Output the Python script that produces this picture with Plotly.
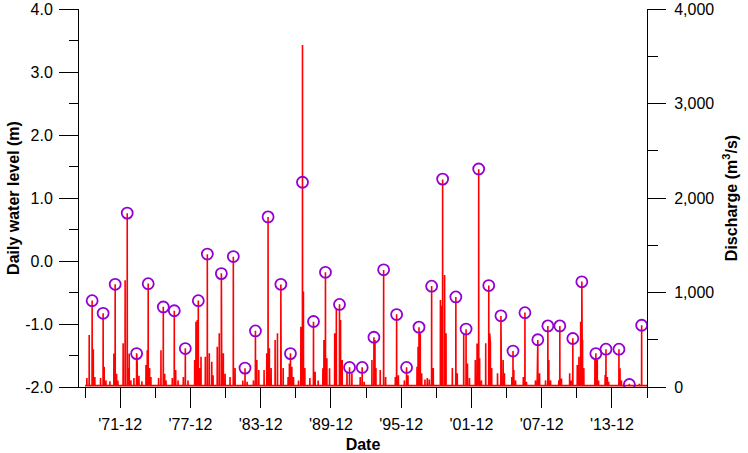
import plotly.graph_objects as go
from datetime import datetime, timedelta

# ---- Annual peak daily water level (circles), decimal year and level (m)
peak_years = [1969.52, 1970.46, 1971.49, 1972.52, 1973.32, 1974.31, 1975.60, 1976.54,
              1977.48, 1978.59, 1979.36, 1980.56, 1981.58, 1982.58, 1983.47, 1984.55,
              1985.64, 1986.46, 1987.49, 1988.43, 1989.45, 1990.65, 1991.51, 1992.59,
              1993.59, 1994.42, 1995.53, 1996.38, 1997.44, 1998.52, 1999.46, 2000.59,
              2001.46, 2002.54, 2003.40, 2004.44, 2005.47, 2006.49, 2007.59, 2008.45,
              2009.47, 2010.58, 2011.35, 2012.55, 2013.41, 2014.52, 2015.41, 2016.46]
peak_levels = [-0.63, -0.83, -0.37, 0.76, -1.47, -0.36, -0.73, -0.79,
               -1.39, -0.63, 0.11, -0.20, 0.07, -1.70, -1.11, 0.70,
               -0.37, -1.47, 1.25, -0.96, -0.18, -0.69, -1.69, -1.69,
               -1.21, -0.14, -0.85, -1.69, -1.05, -0.40, 1.30, -0.57,
               -1.08, 1.46, -0.39, -0.87, -1.43, -0.82, -1.25, -1.03,
               -1.03, -1.23, -0.33, -1.47, -1.40, -1.40, -1.96, -1.02]

# ---- Daily discharge: flood events (decimal year, m3/s)
spike_years = [
    1969.07, 1969.27, 1969.52, 1969.62, 1969.75,
    1970.24, 1970.46, 1970.55, 1970.70, 1971.04,
    1971.38, 1971.49, 1971.61, 1971.72,
    1972.17, 1972.34, 1972.52, 1972.60, 1972.69, 1972.83,
    1973.09, 1973.32, 1973.37, 1973.52, 1973.77,
    1974.12, 1974.23, 1974.31, 1974.43, 1974.54,
    1975.20, 1975.40, 1975.60, 1975.72, 1975.83,
    1976.37, 1976.54, 1976.66, 1976.86,
    1977.31, 1977.48, 1977.71,
    1978.28, 1978.39, 1978.50, 1978.59, 1978.71, 1978.82,
    1979.19, 1979.36, 1979.53, 1979.74, 1979.85,
    1980.21, 1980.38, 1980.56, 1980.59, 1980.73, 1980.88,
    1981.30, 1981.58, 1981.73,
    1982.39, 1982.58, 1982.76,
    1983.30, 1983.47, 1983.59, 1983.76,
    1984.21, 1984.44, 1984.55, 1984.66, 1984.81,
    1985.15, 1985.35, 1985.64, 1985.66, 1985.84,
    1986.26, 1986.37, 1986.46, 1986.58, 1986.72,
    1987.15, 1987.35, 1987.49, 1987.57, 1987.69,
    1988.12, 1988.43, 1988.57, 1988.83,
    1989.23, 1989.32, 1989.45, 1989.57, 1989.80,
    1990.24, 1990.38, 1990.65, 1990.74, 1990.88,
    1991.29, 1991.51, 1991.71,
    1992.42, 1992.59, 1992.76,
    1993.42, 1993.59, 1993.68, 1993.76,
    1994.13, 1994.42, 1994.59,
    1995.42, 1995.53, 1995.68,
    1996.19, 1996.38, 1996.50,
    1997.27, 1997.36, 1997.44, 1997.55, 1997.67,
    1997.95, 1998.15, 1998.32, 1998.52, 1998.66,
    1999.27, 1999.38, 1999.46, 1999.63, 1999.75,
    2000.29, 2000.59, 2000.71,
    2001.26, 2001.46, 2001.58, 2001.75,
    2002.25, 2002.40, 2002.54, 2002.62, 2002.77,
    2003.14, 2003.40, 2003.48, 2003.54, 2003.65,
    2004.15, 2004.44, 2004.48, 2004.63, 2004.74,
    2005.37, 2005.47, 2005.54, 2005.69,
    2006.35, 2006.49, 2006.62,
    2007.39, 2007.54, 2007.59, 2007.74,
    2008.25, 2008.45, 2008.53, 2008.68,
    2009.38, 2009.47, 2009.61,
    2010.31, 2010.45, 2010.58,
    2010.96, 2011.10, 2011.25, 2011.35, 2011.41, 2011.52,
    2012.47, 2012.55, 2012.67, 2012.78,
    2013.34, 2013.41, 2013.53, 2013.64,
    2014.52, 2014.61, 2014.73,
    2015.41,
    2016.26, 2016.46,
]
spike_q = [
    95, 550, 915, 400, 105,
    95, 780, 215, 70, 60,
    355, 1087, 140, 70,
    462, 1130, 1838, 200, 355, 70,
    95, 357, 250, 120, 60,
    233, 390, 1095, 200, 105,
    95, 390, 850, 140, 70,
    95, 807, 180, 70,
    105, 410, 70,
    285, 690, 710, 915, 200, 320,
    320, 1404, 357, 268, 125,
    427, 568, 1203, 600, 357, 140,
    105, 1379, 200,
    70, 198, 55,
    70, 596, 285, 180,
    180, 357, 1799, 410, 200,
    497, 568, 1085, 480, 200,
    105, 250, 357, 215, 105,
    70, 638, 3620, 1010, 200,
    95, 691, 162, 70,
    198, 497, 1214, 303, 198,
    568, 830, 875, 709, 285,
    162, 208, 145,
    105, 208, 55,
    285, 526, 497, 200,
    180, 1238, 105,
    105, 769, 125,
    70, 208, 125,
    215, 427, 632, 568, 145,
    80, 95, 80, 1069, 200,
    920, 860, 2197, 1185, 568,
    200, 952, 145,
    568, 610, 250, 95,
    285, 460, 2303, 303, 70,
    462, 1074, 568, 462, 200,
    145, 751, 656, 285, 145,
    105, 381, 180, 70,
    105, 788, 55,
    70, 390, 497, 145,
    70, 645, 285, 70,
    70, 645, 90,
    145, 70, 515,
    233, 320, 691, 1116, 497, 200,
    303, 357, 285, 70,
    127, 399, 105, 55,
    399, 198, 70,
    35,
    35, 653,
]
base_q = 15
series_start, series_end = 1968.92, 2016.92

# ---- axis ticks
x_tick_years = [1971.917, 1977.917, 1983.917, 1989.917, 1995.917, 2001.917, 2007.917, 2013.917]
x_tick_text = ["'71-12", "'77-12", "'83-12", "'89-12", "'95-12", "'01-12", "'07-12", "'13-12"]
x_minor_years = [1968.917, 1974.917, 1980.917, 1986.917, 1992.917, 1998.917, 2004.917, 2010.917, 2016.917]
x_range_years = [1968.40, 2016.917]
lvl_ticks = [-2, -1, 0, 1, 2, 3, 4]
lvl_text = ["-2.0", "-1.0", "0.0", "1.0", "2.0", "3.0", "4.0"]
q_ticks = [0, 1000, 2000, 3000, 4000]
q_text = ["0", "1,000", "2,000", "3,000", "4,000"]


def dt(y):
    yr = int(y)
    return datetime(yr, 1, 1) + timedelta(days=(y - yr) * 365.25)


xs, ys = [dt(series_start)], [base_q]
for t, q in sorted(zip(spike_years, spike_q)):
    xs += [dt(t - 0.008), dt(t), dt(t + 0.008)]
    ys += [base_q, q, base_q]
xs.append(dt(series_end))
ys.append(base_q)

FONT = "Liberation Sans, Arial, sans-serif"
PURPLE = "#9400D3"

fig = go.Figure()
fig.add_trace(go.Scatter(x=xs, y=ys, mode="lines", yaxis="y",
                         line=dict(color="#FF0000", width=1.6), showlegend=False))
fig.add_trace(go.Scatter(x=[dt(p) for p in peak_years], y=peak_levels, mode="markers",
                         yaxis="y2", showlegend=False,
                         marker=dict(symbol="circle-open", size=11, color=PURPLE,
                                     line=dict(width=1.8, color=PURPLE))))

fig.update_layout(
    width=748, height=453,
    margin=dict(l=79, r=101, t=9, b=66),
    paper_bgcolor="white", plot_bgcolor="white",
    font=dict(family=FONT, size=16, color="black"),
    xaxis=dict(
        type="date", range=[dt(x_range_years[0]), dt(x_range_years[1])],
        showgrid=False, zeroline=False, showline=True, linecolor="black", linewidth=1,
        ticks="outside", ticklen=20, tickwidth=1, tickcolor="black",
        tickmode="array", tickvals=[dt(v) for v in x_tick_years], ticktext=x_tick_text,
        ticklabelstandoff=3,
        minor=dict(tickmode="array", tickvals=[dt(v) for v in x_minor_years],
                   ticks="outside", ticklen=10, tickwidth=1, tickcolor="black", showgrid=False),
        title=dict(text="<b>Date</b>", font=dict(size=16), standoff=6),
        automargin=False,
    ),
    yaxis=dict(
        side="right", range=[0, 4000], showgrid=False, zeroline=False,
        showline=True, linecolor="black", linewidth=1,
        ticks="outside", ticklen=18, tickwidth=1, tickcolor="black",
        tickmode="array", tickvals=q_ticks, ticktext=q_text,
        ticklabelstandoff=5,
        minor=dict(dtick=500, ticks="outside", ticklen=10, tickwidth=1, tickcolor="black", showgrid=False),
        title=dict(text="<b>Discharge (m<sup>3</sup>/s)</b>", font=dict(size=16), standoff=12),
        automargin=False,
    ),
    yaxis2=dict(
        side="left", overlaying="y", range=[-2, 4], showgrid=False, zeroline=False,
        showline=True, linecolor="black", linewidth=1,
        ticks="outside", ticklen=19, tickwidth=1, tickcolor="black",
        tickmode="array", tickvals=lvl_ticks, ticktext=lvl_text,
        ticklabelstandoff=3,
        minor=dict(dtick=0.5, ticks="outside", ticklen=9, tickwidth=1, tickcolor="black", showgrid=False),
        title=dict(text="<b>Daily water level (m)</b>", font=dict(size=16), standoff=1),
        automargin=False,
    ),
)

fig.write_html("out.html")
